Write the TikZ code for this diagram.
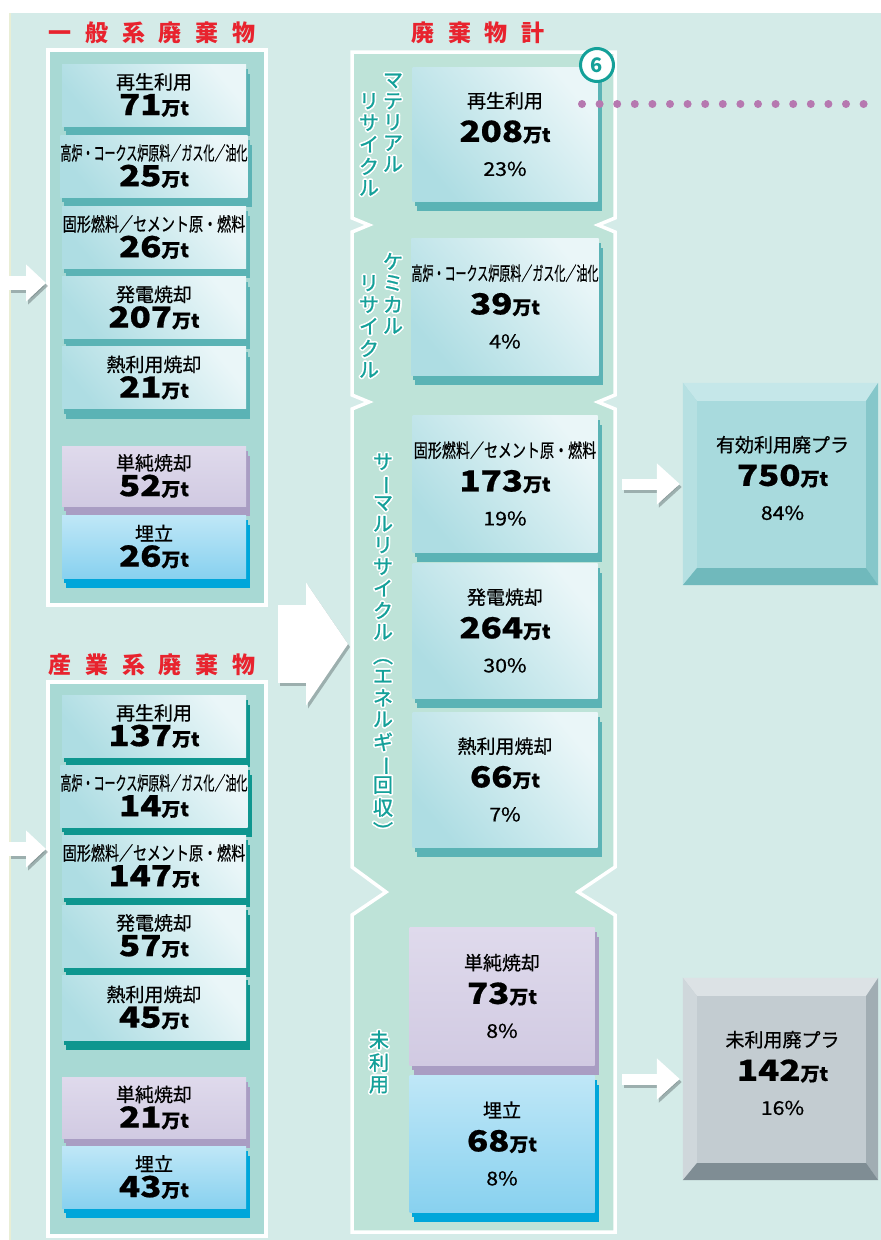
\documentclass[tikz,border=0pt]{standalone}
\usepackage{fontspec}
\setmainfont{Noto Sans CJK JP}
\newfontfamily\labfont[FakeBold=0.6]{Noto Sans CJK JP}
\newfontfamily\vfont[FakeBold=1.2]{Noto Sans CJK JP}
\newfontfamily\ttlfont[LetterSpace=60]{Noto Sans CJK JP}
\usepackage{graphicx}
\usepackage{contour}
\contourlength{1.6pt}
\contournumber{12}
\usetikzlibrary{arrows.meta,calc}

\definecolor{bgc}{HTML}{D4EBE8}
\definecolor{stripc}{HTML}{E9EED5}
\definecolor{lpanelc}{HTML}{A8D9D4}
\definecolor{cpanelc}{HTML}{BEE3D8}
\definecolor{faceT}{HTML}{EAF6F8}
\definecolor{faceB}{HTML}{AEDDE3}
\definecolor{bandA}{HTML}{5BB3B5}
\definecolor{bandB}{HTML}{0E968F}
\definecolor{purT}{HTML}{DFDAEC}
\definecolor{purB}{HTML}{D1CAE2}
\definecolor{purband}{HTML}{A99DC3}
\definecolor{bluT}{HTML}{BFE7F7}
\definecolor{bluB}{HTML}{88D1EF}
\definecolor{bluband}{HTML}{00A6DA}
\definecolor{redt}{HTML}{E8232E}
\definecolor{tealt}{HTML}{14A099}
\definecolor{dotc}{HTML}{B678B0}
\definecolor{effF}{HTML}{A8DADD}
\definecolor{effT}{HTML}{C5E7E9}
\definecolor{effL}{HTML}{B6E0E2}
\definecolor{effR}{HTML}{86C7CA}
\definecolor{effB}{HTML}{70B9BC}
\definecolor{unuF}{HTML}{C3CCD1}
\definecolor{unuT}{HTML}{DCE2E5}
\definecolor{unuL}{HTML}{CFD7DB}
\definecolor{unuR}{HTML}{A1ADB3}
\definecolor{unuB}{HTML}{7F8D94}
\definecolor{shadc}{HTML}{6F7F80}

% amounts, shares, long labels, vertical text
\newcommand\amt[1]{{\fontsize{29}{29}\selectfont\bfseries\scalebox{1.2}[1]{#1}}{\fontsize{19}{19}\selectfont\bfseries 万t}}
\newcommand\pct[1]{{\fontsize{19}{19}\selectfont\scalebox{1.12}[1]{#1\%}}}
\newcommand\kouro{\scalebox{0.58}[1]{高炉・コークス炉原料／ガス化／油化}}
\newcommand\kokei{\scalebox{0.74}[1]{固形燃料／セメント原・燃料}}
\newcommand\vbar{\rotatebox[origin=c]{-90}{ー}}
\newcommand\vrot[1]{\rotatebox[origin=c]{-90}{#1}}
\newcommand\tate[1]{\contour{white}{\begin{tabular}{@{}c@{}}#1\end{tabular}}}

\tikzset{
  lbox/.style={minimum width=184pt, minimum height=#1, inner sep=0pt, align=center,
    font=\labfont\fontsize{19}{26}\selectfont},
  cbox/.style={minimum width=185pt, minimum height=#1, inner sep=0pt, align=center,
    font=\labfont\fontsize{19}{34}\selectfont},
  rbox/.style={minimum width=195pt, minimum height=202pt, inner sep=0pt},
  rtext/.style={inner sep=0pt, align=center, font=\labfont\fontsize{19}{34}\selectfont},
  tealf/.style={top color=faceT, bottom color=faceB, shading angle=-50},
  purf/.style={top color=purT, bottom color=purB},
  bluef/.style={top color=bluT, bottom color=bluB},
  band/.style={preaction={fill=#1, transform canvas={shift={(2pt,-5pt)}}},
    preaction={fill=#1, transform canvas={shift={(4pt,-10pt)}}}},
  lpanel/.style={draw=white, line width=4pt, fill=lpanelc, minimum width=218pt, inner sep=0pt},
  ttl/.style={font=\ttlfont\bfseries\fontsize{23}{23}\selectfont, text=redt, inner sep=0pt},
  vlab/.style={font=\vfont\fontsize{20}{20.4}\selectfont, text=tealt, inner sep=0pt},
  blockarr/.style n args={3}{line width=#1, -{Triangle[length=#2,width=#3]}},
  arrshadow/.style={draw=shadc, opacity=0.55, transform canvas={shift={(2pt,-3pt)}}},
  dotline/.style={draw=dotc, line width=8pt, line cap=round, dash pattern=on 0pt off 17.6pt},
}

\begin{document}
\begin{tikzpicture}[x=1pt,y=-1pt]
\useasboundingbox (0,0) rectangle (881,1240);
\fill[bgc] (9,13) rectangle (881,1240);
\fill[stripc] (9,13) rectangle (11,1240);

% left panels
\node[ttl] (gent) at (152,33) {一般系廃棄物};
\node[lpanel, minimum height=555pt] (genp) at (157,327.5) {};
\node[ttl] (indt) at (152,665) {産業系廃棄物};
\node[lpanel, minimum height=554pt] (indp) at (157,959) {};

\node[lbox=62pt, tealf, band=bandA] (g1) at (154,95) {再生利用\\\amt{71}};
\node[lbox=62pt, tealf, band=bandA] (g2) at (154,166) {\kouro\\\amt{25}};
\node[lbox=62pt, tealf, band=bandA] (g3) at (154,237) {\kokei\\\amt{26}};
\node[lbox=62pt, tealf, band=bandA] (g4) at (154,307.5) {発電焼却\\\amt{207}};
\node[lbox=62pt, tealf, band=bandA] (g5) at (154,377.5) {熱利用焼却\\\amt{21}};
\node[lbox=60pt, purf, band=purband] (g6) at (154,476) {単純焼却\\\amt{52}};
\node[lbox=63pt, bluef, band=bluband] (g7) at (154,546.5) {埋立\\\amt{26}};

\node[lbox=62pt, tealf, band=bandB] (i1) at (154,726) {再生利用\\\amt{137}};
\node[lbox=62pt, tealf, band=bandB] (i2) at (154,796) {\kouro\\\amt{14}};
\node[lbox=62pt, tealf, band=bandB] (i3) at (154,866) {\kokei\\\amt{147}};
\node[lbox=62pt, tealf, band=bandB] (i4) at (154,936) {発電焼却\\\amt{57}};
\node[lbox=65pt, tealf, band=bandB] (i5) at (154,1007.5) {熱利用焼却\\\amt{45}};
\node[lbox=61pt, purf, band=purband] (i6) at (154,1107.5) {単純焼却\\\amt{21}};
\node[lbox=62pt, bluef, band=bluband] (i7) at (154,1177) {埋立\\\amt{43}};

% total panel
\node[ttl] (sumt) at (478,33) {廃棄物計};
\draw[draw=white, line width=3.5pt, fill=cpanelc, line join=miter]
  (352,52) -- (615,52) -- (615,218) -- (598,225) -- (615,232) -- (615,395) -- (598,402)
  -- (615,409) -- (615,867) -- (578,892) -- (615,915) -- (615,1232) -- (352,1232)
  -- (352,915) -- (386,892) -- (352,867) -- (352,409) -- (369,402) -- (352,395)
  -- (352,232) -- (369,225) -- (352,218) -- cycle;

\node[vlab] (matA) at (393,126) {\tate{マ\\テ\\リ\\ア\\ル}};
\node[vlab] (matB) at (369,148) {\tate{リ\\サ\\イ\\ク\\ル}};
\node[vlab] (chmA) at (393,297) {\tate{ケ\\ミ\\カ\\ル}};
\node[vlab] (chmB) at (369,330) {\tate{リ\\サ\\イ\\ク\\ル}};
\node[vlab] (thm) at (383,650) {\tate{サ\\\vbar\\マ\\ル\\リ\\サ\\イ\\ク\\ル\\\vrot{（}\\エ\\ネ\\ル\\ギ\\\vbar\\回\\収\\\vrot{）}}};
\node[vlab] (unl) at (379,1065) {\tate{未\\利\\用}};

\node[cbox=134pt, tealf, band=bandA] (c1) at (505,134) {再生利用\\\amt{208}\\\pct{23}};
\node[cbox=137pt, tealf, band=bandA] (c2) at (505,306.5) {\kouro\\\amt{39}\\\pct{4}};
\node[cbox=137pt, tealf, band=bandA] (c3) at (505,483.5) {\kokei\\\amt{173}\\\pct{19}};
\node[cbox=135pt, tealf, band=bandA] (c4) at (505,630.5) {発電焼却\\\amt{264}\\\pct{30}};
\node[cbox=135pt, tealf, band=bandA] (c5) at (505,779.5) {熱利用焼却\\\amt{66}\\\pct{7}};
\node[cbox=138pt, purf, band=purband] (c6) at (502,996) {単純焼却\\\amt{73}\\\pct{8}};
\node[cbox=137pt, bluef, band=bluband] (c7) at (502,1143.5) {埋立\\\amt{68}\\\pct{8}};

\coordinate (dotin) at (582,104);
\coordinate (dotout) at (881,104);
\draw[dotline] (dotin) -- (dotout);
\node[circle, draw=tealt, line width=3pt, fill=white, minimum size=33pt, inner sep=0pt,
  text=tealt, font=\bfseries\fontsize{20}{20}\selectfont] (mk6) at (597,65) {6};

% result boxes
\node[rbox, fill=effF] (eff) at (780.5,484) {};
\node[rbox, fill=unuF] (unu) at (780.5,1079) {};
\foreach \n/\t/\l/\r/\b in {eff/effT/effL/effR/effB, unu/unuT/unuL/unuR/unuB} {
  \fill[\t] (\n.north west) -- (\n.north east) -- ($(\n.north east)+(-12,18)$) -- ($(\n.north west)+(14,18)$) -- cycle;
  \fill[\l] (\n.north west) -- ($(\n.north west)+(14,18)$) -- ($(\n.south west)+(14,-17)$) -- (\n.south west) -- cycle;
  \fill[\r] (\n.north east) -- (\n.south east) -- ($(\n.south east)+(-12,-17)$) -- ($(\n.north east)+(-12,18)$) -- cycle;
  \fill[\b] (\n.south west) -- (\n.south east) -- ($(\n.south east)+(-12,-17)$) -- ($(\n.south west)+(14,-17)$) -- cycle;
}
\node[rtext] (efftxt) at ($(eff)+(2,-6)$) {有効利用廃プラ\\\amt{750}\\\pct{84}};
\node[rtext] (unutxt) at ($(unu)+(2,-6)$) {未利用廃プラ\\\amt{142}\\\pct{16}};

% arrows
\coordinate (genin) at (9,283);
\coordinate (genend) at (genin -| genp.west);
\coordinate (indin) at (9,849);
\coordinate (indend) at (indin -| indp.west);
\coordinate (bigin) at (278,644);
\coordinate (bigout) at (348,644);
\coordinate (effin) at (622,484);
\coordinate (effend) at ($(eff.west)+(-3,0)$);
\coordinate (unuin) at (622,1079);
\coordinate (unuend) at ($(unu.west)+(-3,0)$);
\foreach \a/\b/\w/\l/\h in {genin/genend/14pt/20pt/36pt, indin/indend/14pt/20pt/36pt,
    bigin/bigout/78pt/42pt/121pt, effin/effend/11pt/23pt/40pt, unuin/unuend/11pt/23pt/40pt} {
  \draw[blockarr={\w}{\l}{\h}, arrshadow] (\a) -- (\b);
  \draw[blockarr={\w}{\l}{\h}, white] (\a) -- (\b);
}
\end{tikzpicture}
\end{document}
